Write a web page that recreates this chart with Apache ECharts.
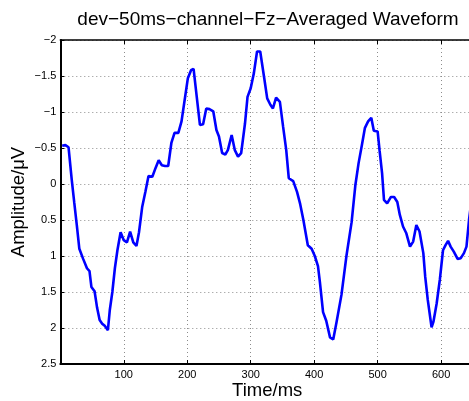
<!DOCTYPE html>
<html>
<head>
<meta charset="utf-8">
<script src="https://cdn.jsdelivr.net/npm/echarts@6/dist/echarts.min.js"></script>
<style>
  html, body { margin: 0; padding: 0; background: #fff; }
  #chart { width: 469px; height: 401px; }
</style>
</head>
<body>
<div id="chart"></div>
<script>
// Averaged ERP waveform, channel Fz (time in ms, amplitude in µV; negative up)
const times = [
  3, 8, 13, 18, 22, 26, 30, 36, 42, 46, 49, 54, 58, 62, 66, 70, 75, 78, 82, 86,
  90, 95, 100, 105, 110, 115, 120, 124, 129, 134, 139, 145, 150, 155, 160, 165, 170, 175, 180, 186,
  191, 196, 201, 206, 210, 215, 220, 225, 230, 235, 241, 246, 250, 255, 260, 264, 270, 275, 280, 285,
  291, 295, 300, 305, 310, 315, 321, 326, 331, 335, 340, 346, 351, 356, 360, 367, 373, 378, 383, 390,
  396, 401, 406, 409, 414, 419, 425, 430, 435, 443, 451, 459, 465, 470, 475, 480, 485, 490, 494, 500,
  503, 507, 510, 515, 521, 526, 531, 535, 540, 545, 551, 556, 561, 566, 572, 575, 579, 585, 588, 593,
  598, 603, 607, 611, 615, 620, 626, 631, 636, 640, 644, 647
];
const amps = [
  -0.53, -0.54, -0.51, -0.06, 0.26, 0.57, 0.90, 1.04, 1.17, 1.21, 1.43, 1.49, 1.72, 1.89, 1.94, 1.97, 2.03, 1.75, 1.50, 1.17,
  0.92, 0.67, 0.78, 0.81, 0.66, 0.81, 0.86, 0.67, 0.32, 0.11, -0.11, -0.10, -0.22, -0.33, -0.26, -0.25, -0.25, -0.57, -0.71, -0.71,
  -0.87, -1.17, -1.47, -1.58, -1.60, -1.21, -0.82, -0.83, -1.05, -1.04, -1.01, -0.75, -0.66, -0.43, -0.41, -0.47, -0.68, -0.47, -0.38, -0.43,
  -0.84, -1.21, -1.33, -1.54, -1.84, -1.84, -1.49, -1.19, -1.10, -1.05, -1.20, -1.14, -0.80, -0.47, -0.08, -0.04, 0.11, 0.28, 0.50, 0.85,
  0.90, 1.00, 1.14, 1.36, 1.78, 1.90, 2.13, 2.16, 1.93, 1.54, 0.99, 0.53, 0.01, -0.29, -0.53, -0.78, -0.87, -0.92, -0.74, -0.73,
  -0.47, -0.15, 0.22, 0.27, 0.18, 0.18, 0.25, 0.43, 0.59, 0.68, 0.87, 0.80, 0.57, 0.66, 0.96, 1.29, 1.61, 1.99, 1.91, 1.66,
  1.33, 0.92, 0.85, 0.79, 0.87, 0.94, 1.04, 1.03, 0.96, 0.87, 0.50, 0.29
];
const yTicks = [-2, -1.5, -1, -0.5, 0, 0.5, 1, 1.5, 2, 2.5];
const xTicks = [100, 200, 300, 400, 500, 600];

const FONT = '"Liberation Sans", Arial, Helvetica, sans-serif';
const minus = v => (v < 0 ? '\u2212' : '') + Math.abs(v);

const chart = echarts.init(document.getElementById('chart'), null, { renderer: 'canvas' });

const gridLine = { show: true, lineStyle: { color: '#8c8c8c', width: 1, type: [1, 3] } };

chart.setOption({
  backgroundColor: '#ffffff',
  animation: false,
  title: {
    text: 'dev\u221250ms\u2212channel\u2212Fz\u2212Averaged Waveform',
    left: 268, top: 10, textAlign: 'center', padding: 0,
    textStyle: { fontFamily: FONT, fontSize: 19, fontWeight: 'normal', color: '#000' }
  },
  grid: {
    left: 60.3, top: 40, right: -5.1, bottom: 37,
    containLabel: false, outerBoundsMode: 'none'
  },
  xAxis: [{
    type: 'value', position: 'bottom',
    min: 0, max: 652, interval: 100,
    name: 'Time/ms', nameLocation: 'middle', nameGap: 17, nameMoveOverlap: false,
    nameTextStyle: { fontFamily: FONT, fontSize: 18.5, color: '#000' },
    axisLine: { show: true, onZero: false, lineStyle: { color: '#000', width: 2 } },
    axisTick: { show: true, inside: true, length: 4, lineStyle: { color: '#000' } },
    axisLabel: {
      fontFamily: FONT, fontSize: 11, color: '#000', margin: 5,
      formatter: v => (xTicks.indexOf(v) >= 0 ? String(v) : '')
    },
    splitLine: gridLine
  }, {
    type: 'value', position: 'top',
    min: 0, max: 652, interval: 100,
    axisLine: { show: true, onZero: false, lineStyle: { color: '#000', width: 1.5 } },
    axisTick: { show: true, inside: true, length: 4, lineStyle: { color: '#000' } },
    axisLabel: { show: false },
    splitLine: { show: false }
  }],
  yAxis: {
    type: 'value', inverse: true,
    min: -2, max: 2.5, interval: 0.5,
    name: 'Amplitude/\u03bcV', nameLocation: 'middle', nameGap: 32, nameMoveOverlap: false,
    nameTextStyle: { fontFamily: FONT, fontSize: 18.5, color: '#000' },
    axisLine: { show: true, onZero: false, lineStyle: { color: '#000', width: 2 } },
    axisTick: { show: true, inside: true, length: 4, lineStyle: { color: '#000' } },
    axisLabel: {
      fontFamily: FONT, fontSize: 11, color: '#000', margin: 4,
      formatter: v => (yTicks.indexOf(v) >= 0 ? minus(v) : '')
    },
    splitLine: gridLine
  },
  series: [{
    type: 'line',
    xAxisIndex: 0,
    data: times.map((t, i) => [t, amps[i]]),
    showSymbol: false,
    smooth: false,
    clip: true,
    lineStyle: { color: '#0000ff', width: 2.6 },
    itemStyle: { color: '#0000ff' }
  }]
});
</script>
</body>
</html>
